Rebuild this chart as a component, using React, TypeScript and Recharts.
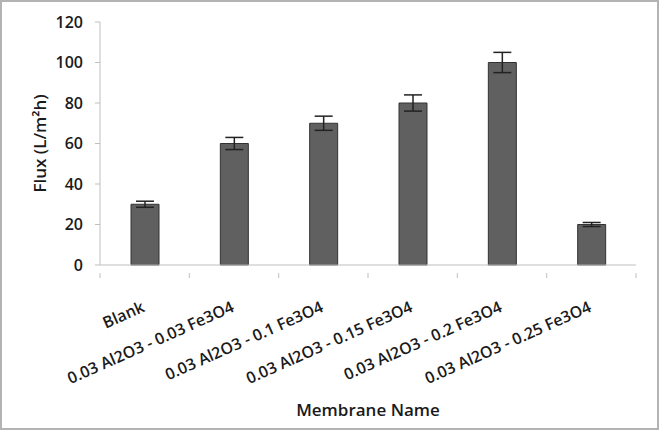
import React from 'react';
import { BarChart, Bar, XAxis, YAxis, ErrorBar, Label } from 'recharts';

const membranes = [
    'Blank',
    '0.03 Al2O3 - 0.03 Fe3O4',
    '0.03 Al2O3 - 0.1 Fe3O4',
    '0.03 Al2O3 - 0.15 Fe3O4',
    '0.03 Al2O3 - 0.2 Fe3O4',
    '0.03 Al2O3 - 0.25 Fe3O4',
];
const flux = [30, 60, 70, 80, 100, 20];
const fluxError = [1.5, 3, 3.5, 4, 5, 1];
const yTicks = [0, 20, 40, 60, 80, 100, 120];

const data = membranes.map((name, i) => ({ name, flux: flux[i], err: fluxError[i] }));

const FONT = '"Open Sans", "Noto Sans", sans-serif';
const AXIS_GRAY = '#bfbfbf';
const TEXT = '#1a1a1a';

// excel-style category tick: marks sit on the band edges, label rotated
const CategoryTick = (props: any) => {
    const { x, y, payload, index, visibleTicksCount } = props;
    const half = payload && payload.offset ? payload.offset : 44.7;
    const isLast = index === visibleTicksCount - 1;
    const tx = x + 1;
    const ty = y + 38;
    return (
        <g>
            <line x1={x - half} y1={y} x2={x - half} y2={y + 5} stroke={AXIS_GRAY} />
            {isLast && <line x1={x + half} y1={y} x2={x + half} y2={y + 5} stroke={AXIS_GRAY} />}
            <text
                x={tx}
                y={ty}
                textAnchor="end"
                fontSize={16}
                fontWeight={600}
                fontFamily={FONT}
                fill={TEXT}
                transform={`rotate(-24, ${tx}, ${ty})`}
            >
                {payload.value}
            </text>
        </g>
    );
};

const App: React.FC = () => {
    return (
        <div
            style={{
                position: 'absolute',
                left: 0,
                top: 0,
                width: 659,
                height: 430,
                boxSizing: 'border-box',
                border: '2px solid #b3b3b3',
                background: '#fff',
            }}
        >
            <div style={{ position: 'absolute', left: -2, top: -2 }}>
                <BarChart
                    width={659}
                    height={430}
                    data={data}
                    margin={{ top: 22, right: 23, left: 0, bottom: 0 }}
                    barSize={28}
                >
                    <XAxis
                        dataKey="name"
                        height={165}
                        interval={0}
                        tickLine={false}
                        axisLine={{ stroke: AXIS_GRAY }}
                        tick={<CategoryTick />}
                    >
                        <Label
                            value="Membrane Name"
                            position="insideBottom"
                            offset={14}
                            style={{ fontFamily: FONT, fontSize: 17, fontWeight: 600, fill: TEXT }}
                        />
                    </XAxis>
                    <YAxis
                        width={100}
                        domain={[0, 120]}
                        ticks={yTicks}
                        tickSize={5}
                        tickMargin={12}
                        axisLine={{ stroke: AXIS_GRAY }}
                        tickLine={{ stroke: AXIS_GRAY }}
                        tick={{ fontFamily: FONT, fontSize: 16, fontWeight: 600, fill: TEXT }}
                    >
                        <Label
                            value="Flux (L/m²h)"
                            angle={-90}
                            position="insideLeft"
                            offset={40}
                            style={{ fontFamily: FONT, fontSize: 17, fontWeight: 600, fill: TEXT, textAnchor: 'middle' }}
                        />
                    </YAxis>
                    <Bar dataKey="flux" fill="#606060" stroke="#333" strokeWidth={1} isAnimationActive={false}>
                        <ErrorBar dataKey="err" width={9} stroke="#222" strokeWidth={1.5} />
                    </Bar>
                </BarChart>
            </div>
        </div>
    );
};

export default App;
